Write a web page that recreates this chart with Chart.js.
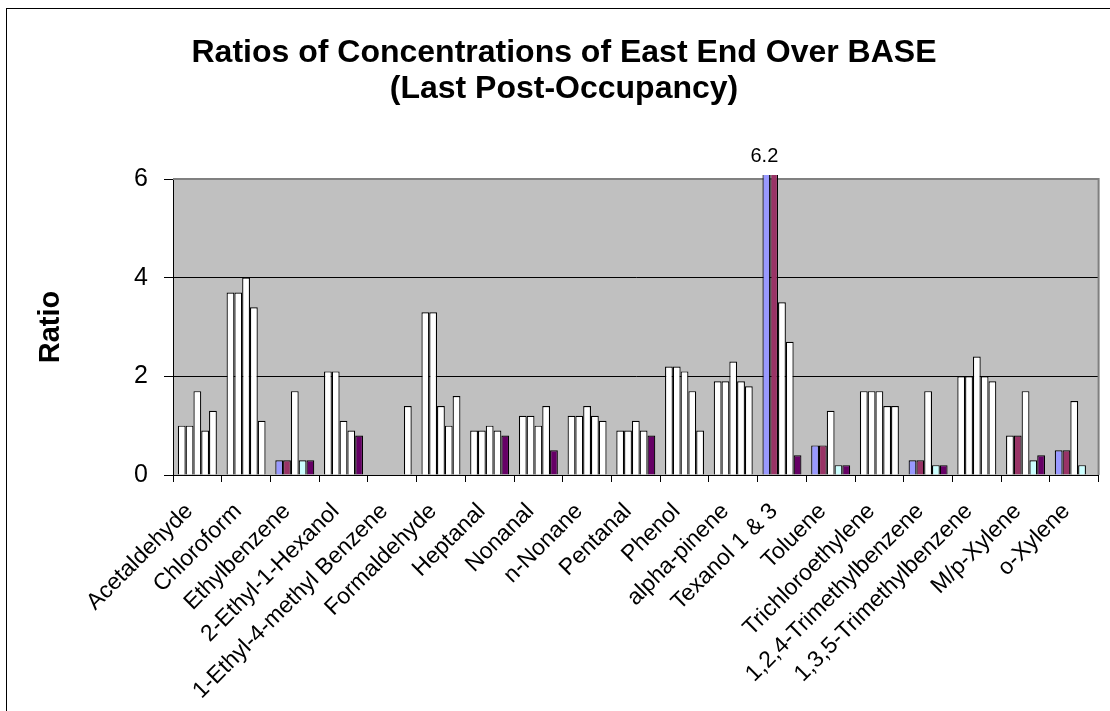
<!DOCTYPE html>
<html lang="en">
<head>
<meta charset="UTF-8">
<title>Ratios of Concentrations of East End Over BASE</title>
<script src="https://cdn.jsdelivr.net/npm/chart.js"></script>
<style>
  html, body { margin: 0; padding: 0; background: #fff; }
  #wrap { width: 1110px; height: 711px; }
</style>
</head>
<body>
<div id="wrap"><canvas id="ratioChart"></canvas></div>
<script>
// categories and the five ratio series
const compounds = ['Acetaldehyde', 'Chloroform', 'Ethylbenzene', '2-Ethyl-1-Hexanol',
  '1-Ethyl-4-methyl Benzene', 'Formaldehyde', 'Heptanal', 'Nonanal', 'n-Nonane', 'Pentanal',
  'Phenol', 'alpha-pinene', 'Texanol 1 & 3', 'Toluene', 'Trichloroethylene',
  '1,2,4-Trimethylbenzene', '1,3,5-Trimethylbenzene', 'M/p-Xylene', 'o-Xylene'];

const ratio1 = [1.0, 3.7, 0.3, 2.1, null, 3.3, 0.9, 1.2, 1.2, 0.9, 2.2, 1.9, 6.2, 0.6, 1.7, 0.3, 2.0, 0.8, 0.5];
const ratio2 = [1.0, 3.7, 0.3, 2.1, null, 3.3, 0.9, 1.2, 1.2, 0.9, 2.2, 1.9, 6.2, 0.6, 1.7, 0.3, 2.0, 0.8, 0.5];
const ratio3 = [1.7, 4.0, 1.7, 1.1, null, 1.4, 1.0, 1.0, 1.4, 1.1, 2.1, 2.3, 3.5, 1.3, 1.7, 1.7, 2.4, 1.7, 1.5];
const ratio4 = [0.9, 3.4, 0.3, 0.9, null, 1.0, 0.9, 1.4, 1.2, 0.9, 1.7, 1.9, 2.7, 0.2, 1.4, 0.2, 2.0, 0.3, 0.2];
const ratio5 = [1.3, 1.1, 0.3, 0.8, 1.4, 1.6, 0.8, 0.5, 1.1, 0.8, 0.9, 1.8, 0.4, 0.2, 1.4, 0.2, 1.9, 0.4, null];

const yTicks = [0, 2, 4, 6];
const titleLines = ['Ratios of Concentrations of East End Over BASE', '(Last Post-Occupancy)'];

// styling: which bars get the series colour, the rest are white
const seriesColors = ['#9999FF', '#993366', '#FFFFCC', '#CCFFFF', '#660066'];
const shaded = [
  [2, 12, 13, 15, 18],
  [2, 12, 13, 15, 17, 18],
  [],
  [2, 13, 15, 17, 18],
  [2, 3, 6, 7, 9, 12, 13, 15, 17]
];

const FONT = 'Arial, "Liberation Sans", sans-serif';
const allSeries = [ratio1, ratio2, ratio3, ratio4, ratio5];
const yMax = yTicks[yTicks.length - 1];

const datasets = allSeries.map((vals, i) => ({
  label: 'Series ' + (i + 1),
  data: vals,
  backgroundColor: ctx => shaded[i].includes(ctx.dataIndex) ? seriesColors[i] : '#FFFFFF',
  borderColor: '#000000',
  borderWidth: 1.2,
  categoryPercentage: 0.8,
  barPercentage: 1.0,
  clip: { left: 0, right: 0, top: 4, bottom: 0 }
}));

// plot-area fill, outer frame, title, and the off-scale value label
const decorations = {
  id: 'decorations',
  beforeDraw(chart) {
    const { ctx, chartArea: a } = chart;
    ctx.save();
    ctx.fillStyle = '#FFFFFF';
    ctx.fillRect(0, 0, chart.width, chart.height);
    ctx.strokeStyle = '#000000';
    ctx.lineWidth = 1;
    ctx.strokeRect(6.5, 8.5, chart.width + 40, chart.height + 40);
    ctx.fillStyle = '#C0C0C0';
    ctx.fillRect(a.left, a.top, a.right - a.left, a.bottom - a.top);
    ctx.fillStyle = '#000000';
    ctx.font = 'bold 32px ' + FONT;
    ctx.textAlign = 'center';
    ctx.textBaseline = 'alphabetic';
    ctx.fillText(titleLines[0], 564, 62);
    ctx.fillText(titleLines[1], 564, 98);
    ctx.restore();
  },
  beforeDatasetsDraw(chart) {
    const { ctx, chartArea: a } = chart;
    ctx.save();
    ctx.strokeStyle = '#808080';
    ctx.lineWidth = 2;
    ctx.beginPath();
    ctx.moveTo(a.left, a.top);
    ctx.lineTo(a.right, a.top);
    ctx.lineTo(a.right, a.bottom);
    ctx.stroke();
    ctx.restore();
  },
  afterDatasetsDraw(chart) {
    const { ctx, chartArea: a } = chart;
    ctx.save();
    ctx.fillStyle = '#000000';
    ctx.font = '20px ' + FONT;
    ctx.textAlign = 'center';
    ctx.textBaseline = 'alphabetic';
    compounds.forEach((c, idx) => {
      for (let d = 0; d < allSeries.length; d++) {
        const v = allSeries[d][idx];
        if (v != null && v > yMax) {
          const bar = chart.getDatasetMeta(d).data[idx];
          ctx.fillText(v.toFixed(1), bar.x - 2, a.top - 17);
          break;
        }
      }
    });
    ctx.restore();
  }
};

new Chart(document.getElementById('ratioChart'), {
  type: 'bar',
  data: { labels: compounds, datasets: datasets },
  options: {
    responsive: true,
    maintainAspectRatio: false,
    animation: false,
    layout: { padding: { top: 179, right: 9, left: 0, bottom: 0 } },
    plugins: {
      legend: { display: false },
      title: { display: false },
      tooltip: { enabled: false }
    },
    scales: {
      x: {
        afterFit: scale => { scale.height = 236; },
        grid: { offset: true, drawOnChartArea: false, drawTicks: true, tickLength: 7, color: '#000000' },
        border: { color: '#000000', width: 1 },
        ticks: {
          autoSkip: false,
          minRotation: 45,
          maxRotation: 45,
          padding: 16,
          labelOffset: -8,
          color: '#000000',
          font: { family: FONT, size: 23 }
        }
      },
      y: {
        min: 0,
        max: yMax,
        afterFit: scale => { scale.width = 173; },
        afterBuildTicks: scale => { scale.ticks = yTicks.map(v => ({ value: v })); },
        grid: {
          color: ctx => ctx.tick && ctx.tick.value === yMax ? '#808080' : '#000000',
          tickColor: '#000000',
          tickLength: 9,
          lineWidth: 1
        },
        border: { color: '#000000', width: 1 },
        ticks: {
          padding: 16,
          color: '#000000',
          font: { family: FONT, size: 25 }
        },
        title: {
          display: true,
          text: 'Ratio',
          color: '#000000',
          font: { family: FONT, size: 29, weight: 'bold' },
          padding: { top: 34, bottom: 0 }
        }
      }
    }
  },
  plugins: [decorations]
});
</script>
</body>
</html>
